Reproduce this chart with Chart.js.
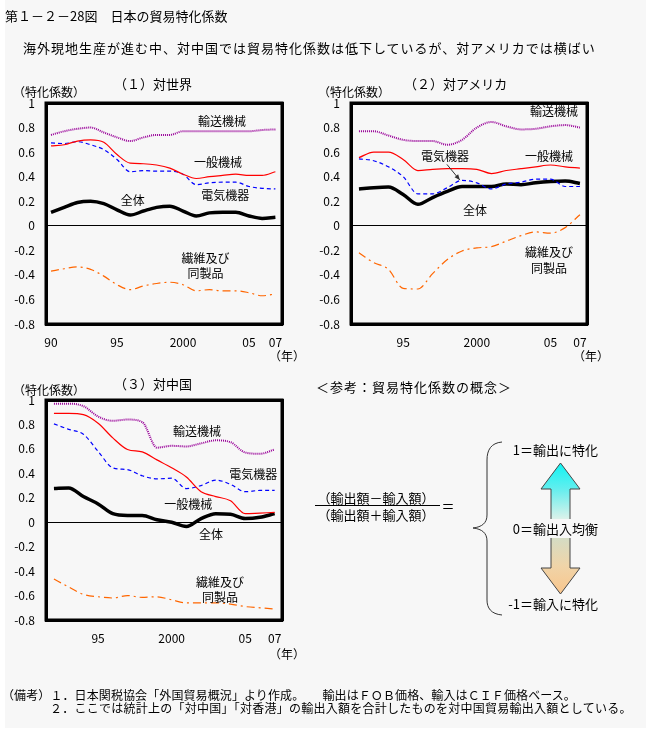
<!DOCTYPE html>
<html><head><meta charset="utf-8">
<script src="https://cdn.jsdelivr.net/npm/chart.js@4.4.0/dist/chart.umd.min.js"></script>
<style>
body{margin:0;background:#fff;width:651px;height:735px;position:relative;overflow:hidden;font-family:"Noto Sans CJK JP",sans-serif;color:#000}
#bg{position:absolute;left:5px;top:0;width:641px;height:728px;background:#f7f7f7;z-index:0}
.t{position:absolute;white-space:nowrap;line-height:1;font-size:12px;transform:translateY(-50%);z-index:3}
.c{transform:translate(-50%,-50%)}
.r{transform:translate(-100%,-50%)}
canvas{position:absolute;z-index:1}
svg{position:absolute;left:0;top:0;z-index:2}
</style></head><body>
<div id="bg"></div>
<div class="t" style="left:5px;top:15px;font-size:13px">第１－２－28図　日本の貿易特化係数</div>
<div class="t" style="left:23px;top:47px;font-size:13px;letter-spacing:1px">海外現地生産が進む中、対中国では貿易特化係数は低下しているが、対アメリカでは横ばい</div>

<div class="t" style="left:114px;top:83px;font-size:13px">（１）対世界</div>
<div class="t" style="left:404px;top:83px;font-size:13px">（２）対アメリカ</div>
<div class="t" style="left:114px;top:383px;font-size:13px">（３）対中国</div>
<div class="t" style="left:13px;top:92px">（特化係数）</div>
<div class="t" style="left:318px;top:92px">（特化係数）</div>
<div class="t" style="left:13px;top:390px">（特化係数）</div>
<div class="t c" style="left:287px;top:356px">（年）</div>
<div class="t c" style="left:591px;top:356px">（年）</div>
<div class="t c" style="left:287px;top:654px">（年）</div>

<canvas id="c1" width="310" height="267" style="left:0;top:93px"></canvas>
<canvas id="c2" width="310" height="267" style="left:305px;top:93px"></canvas>
<canvas id="c3" width="310" height="266" style="left:0;top:390px"></canvas>

<svg width="651" height="735">
  <defs>
    <linearGradient id="gUp" x1="0" y1="463" x2="0" y2="519" gradientUnits="userSpaceOnUse">
      <stop offset="0" stop-color="#10f4f4"/>
      <stop offset="0.45" stop-color="#60eeee"/>
      <stop offset="1" stop-color="#dcf2ea"/>
    </linearGradient>
    <linearGradient id="gDn" x1="0" y1="538" x2="0" y2="594" gradientUnits="userSpaceOnUse">
      <stop offset="0" stop-color="#d4dcc4"/>
      <stop offset="0.5" stop-color="#f0d4a8"/>
      <stop offset="1" stop-color="#f9c58c"/>
    </linearGradient>
  </defs>
  <path d="M551,519 L551,489 L541,489 L560.5,463 L580,489 L570,489 L570,519 Z" fill="url(#gUp)" stroke="none"/>
  <path d="M551,519 L551,489 L541,489 L560.5,463 L580,489 L570,489 L570,519" fill="none" stroke="#444" stroke-width="1"/>
  <path d="M551,538 L551,568 L541,568 L560.5,594 L580,568 L570,568 L570,538 Z" fill="url(#gDn)" stroke="none"/>
  <path d="M551,538 L551,568 L541,568 L560.5,594 L580,568 L570,568 L570,538" fill="none" stroke="#444" stroke-width="1"/>
  <path d="M502,442 C491,443 487,450 487,460 L487,515 C487,523 482,527 473,528 C482,529 487,533 487,541 L487,600 C487,608 491,614 502,615" fill="none" stroke="#333" stroke-width="1"/>
  <line x1="315" y1="505.5" x2="440" y2="505.5" stroke="#000" stroke-width="1"/>
</svg>

<div class="t" style="left:316px;top:386px;font-size:13px;letter-spacing:1px">＜参考：貿易特化係数の概念＞</div>
<div class="t c" style="left:376px;top:497px;font-size:13px">（輸出額－輸入額）</div>
<div class="t c" style="left:376px;top:514px;font-size:13px">（輸出額＋輸入額）</div>
<div class="t c" style="left:448px;top:505px;font-size:13px">＝</div>
<div class="t r" style="left:598px;top:449px;font-size:13px">1＝輸出に特化</div>
<div class="t r" style="left:598px;top:528px;font-size:13px">0＝輸出入均衡</div>
<div class="t r" style="left:598px;top:603px;font-size:13px">-1＝輸入に特化</div>

<div class="t" style="left:2px;top:695px;letter-spacing:0.1px">（備考）１．日本関税協会「外国貿易概況」より作成。　　輸出はＦＯＢ価格、輸入はＣＩＦ価格ベース。</div>
<div class="t" style="left:50px;top:708px;letter-spacing:0.25px">２．ここでは統計上の「対中国」「対香港」の輸出入額を合計したものを対中国貿易輸出入額としている。</div>

<script>
// ---- categories (years) ----
const yearsWorld = [1990,1991,1992,1993,1994,1995,1996,1997,1998,1999,2000,2001,2002,2003,2004,2005,2006,2007];
const yearsUS    = [1992,1993,1994,1995,1996,1997,1998,1999,2000,2001,2002,2003,2004,2005,2006,2007];
const yearsChina = [1992,1993,1994,1995,1996,1997,1998,1999,2000,2001,2002,2003,2004,2005,2006,2007];

// ---- series names ----
const seriesNames = ['輸送機械','一般機械','電気機器','全体','繊維及び同製品'];

// ---- (1) 対世界 ----
const worldTransport = [0.74,0.77,0.79,0.80,0.76,0.72,0.69,0.72,0.74,0.74,0.77,0.77,0.77,0.77,0.77,0.77,0.78,0.785];
const worldGeneral   = [0.65,0.66,0.69,0.70,0.68,0.58,0.51,0.505,0.495,0.47,0.42,0.385,0.40,0.41,0.42,0.41,0.41,0.44];
const worldElectric  = [0.675,0.67,0.685,0.66,0.62,0.54,0.44,0.45,0.445,0.445,0.42,0.335,0.35,0.355,0.355,0.32,0.305,0.30];
const worldTotal     = [0.11,0.15,0.19,0.20,0.18,0.13,0.087,0.12,0.15,0.16,0.12,0.08,0.105,0.11,0.11,0.08,0.06,0.07];
const worldTextile   = [-0.37,-0.35,-0.335,-0.355,-0.41,-0.48,-0.52,-0.49,-0.47,-0.46,-0.48,-0.53,-0.52,-0.53,-0.53,-0.545,-0.57,-0.555];

// ---- (2) 対アメリカ ----
const usTransport = [0.77,0.77,0.735,0.70,0.69,0.69,0.66,0.70,0.80,0.845,0.81,0.785,0.79,0.81,0.82,0.80];
const usGeneral   = [0.555,0.60,0.60,0.54,0.45,0.46,0.465,0.465,0.46,0.425,0.45,0.465,0.48,0.495,0.48,0.47];
const usElectric  = [0.545,0.53,0.48,0.40,0.26,0.26,0.31,0.37,0.35,0.30,0.34,0.355,0.38,0.38,0.32,0.32];
const usTotal     = [0.30,0.31,0.315,0.255,0.175,0.23,0.28,0.32,0.32,0.32,0.34,0.335,0.35,0.36,0.365,0.345];
const usTextile   = [-0.22,-0.30,-0.355,-0.51,-0.515,-0.39,-0.275,-0.205,-0.18,-0.17,-0.125,-0.08,-0.05,-0.06,-0.015,0.09];

// ---- (3) 対中国 ----
const cnTransport = [0.97,0.97,0.95,0.865,0.83,0.84,0.82,0.61,0.625,0.62,0.645,0.67,0.655,0.57,0.56,0.595];
const cnGeneral   = [0.89,0.89,0.88,0.81,0.69,0.595,0.575,0.51,0.445,0.37,0.25,0.21,0.175,0.07,0.075,0.08];
const cnElectric  = [0.805,0.76,0.72,0.58,0.445,0.43,0.38,0.355,0.36,0.275,0.30,0.345,0.31,0.25,0.26,0.26];
const cnTotal     = [0.275,0.28,0.21,0.15,0.07,0.055,0.055,0.02,0.0,-0.035,0.03,0.07,0.065,0.03,0.04,0.07];
const cnTextile   = [-0.465,-0.53,-0.59,-0.61,-0.62,-0.60,-0.615,-0.61,-0.635,-0.66,-0.66,-0.66,-0.67,-0.69,-0.70,-0.71];

// ---- tick labels ----
const xTicksWorld = [1990,1995,2000,2005,2007];
const xLabelsWorld = ['90','95','2000','05','07'];
const xTicksOther = [1995,2000,2005,2007];
const xLabelsOther = ['95','2000','05','07'];
const yMin = -0.8, yMax = 1, yStep = 0.2;

// ---- in-plot annotations (data coordinates) ----
const annWorld = [
  {text:'輸送機械', x:2002.95, y:0.85},
  {text:'一般機械', x:2002.65, y:0.515},
  {text:'電気機器', x:2003.2, y:0.247},
  {text:'全体', x:1996.2, y:0.206},
  {text:'繊維及び', x:2001.7, y:-0.266},
  {text:'同製品', x:2001.7, y:-0.39}
];
const annUS = [
  {text:'輸送機械', x:2005.24, y:0.93},
  {text:'一般機械', x:2004.9, y:0.564},
  {text:'電気機器', x:1997.84, y:0.564},
  {text:'全体', x:1999.88, y:0.125},
  {text:'繊維及び', x:2004.9, y:-0.217},
  {text:'同製品', x:2004.9, y:-0.348}
];
const arrowUS = {from:{x:1997.97, y:0.50}, to:{x:1998.85, y:0.372}};
const annCN = [
  {text:'輸送機械', x:2001.73, y:0.746},
  {text:'電気機器', x:2005.54, y:0.395},
  {text:'一般機械', x:2001.12, y:0.149},
  {text:'全体', x:2002.68, y:-0.097},
  {text:'繊維及び', x:2003.29, y:-0.49},
  {text:'同製品', x:2003.29, y:-0.612}
];

const FONT = "'Noto Sans CJK JP', sans-serif";
const styles = [
  {color:'#990099', width:2, dash:[1,1]},
  {color:'#ff0000', width:1.2, dash:[]},
  {color:'#0000ff', width:1.2, dash:[4,3]},
  {color:'#000000', width:3.5, dash:[]},
  {color:'#ff6600', width:1.2, dash:[8,4,2,4]}
];

function frameAxis(position, isX){
  return {
    type: 'linear', position, display: true,
    min: 0, max: 1,
    grid: {display: false, drawTicks: false},
    ticks: {display: false},
    border: {display: true, width: 3, color: '#000'},
    afterFit: sc => { if (isX) sc.height = 0; else sc.width = 0; }
  };
}

function makeChart(id, years, seriesVals, xMin, xMax, tickVals, tickLabs, annots, arrow){
  const datasets = seriesVals.map((vals, k) => ({
    label: seriesNames[k],
    data: years.map((yr, i) => ({x: yr, y: vals[i]})),
    borderColor: styles[k].color,
    borderWidth: styles[k].width,
    borderDash: styles[k].dash,
    pointRadius: 0,
    fill: false,
    cubicInterpolationMode: 'monotone'
  }));
  const annotPlugin = {
    id: 'annot' + id,
    afterDraw(chart){
      const ctx = chart.ctx, a = chart.chartArea, x = chart.scales.x, y = chart.scales.y;
      ctx.save();
      ctx.setLineDash([]);
      ctx.strokeStyle = '#000';
      ctx.lineWidth = 3;
      ctx.beginPath();
      ctx.rect(a.left, a.top, a.width, a.height);
      ctx.stroke();
      ctx.fillStyle = '#000';
      ctx.font = "12px " + FONT;
      ctx.textAlign = 'center'; ctx.textBaseline = 'middle';
      annots.forEach(l => ctx.fillText(l.text, x.getPixelForValue(l.x), y.getPixelForValue(l.y)));
      if (arrow){
        const x1 = x.getPixelForValue(arrow.from.x), y1 = y.getPixelForValue(arrow.from.y);
        const x2 = x.getPixelForValue(arrow.to.x), y2 = y.getPixelForValue(arrow.to.y);
        ctx.strokeStyle = '#333'; ctx.lineWidth = 1;
        ctx.beginPath(); ctx.moveTo(x1, y1); ctx.lineTo(x2, y2); ctx.stroke();
        const ang = Math.atan2(y2 - y1, x2 - x1), L = 6;
        ctx.fillStyle = '#333';
        ctx.beginPath();
        ctx.moveTo(x2, y2);
        ctx.lineTo(x2 - L*Math.cos(ang - 0.4), y2 - L*Math.sin(ang - 0.4));
        ctx.lineTo(x2 - L*Math.cos(ang + 0.4), y2 - L*Math.sin(ang + 0.4));
        ctx.closePath(); ctx.fill();
      }
      ctx.restore();
    }
  };
  return new Chart(document.getElementById(id), {
    type: 'line',
    data: {datasets},
    options: {
      responsive: false, animation: false, devicePixelRatio: 1,
      layout: {padding: {top: 10, right: 28, left: 0, bottom: 0}},
      plugins: {legend: {display: false}, tooltip: {enabled: false}},
      scales: {
        x: {
          type: 'linear', min: xMin, max: xMax,
          grid: {display: false, drawTicks: false},
          border: {display: true, width: 3, color: '#000'},
          afterBuildTicks: sc => { sc.ticks = tickVals.map(v => ({value: v})); },
          afterFit: sc => { sc.height = 36; },
          ticks: {autoSkip: false, maxRotation: 0, padding: 11, color: '#000',
            font: {size: 12, family: FONT},
            callback: v => { const i = tickVals.indexOf(v); return i >= 0 ? tickLabs[i] : ''; }}
        },
        y: {
          min: yMin, max: yMax,
          afterFit: sc => { sc.width = 46; },
          grid: {drawTicks: true, tickLength: 11, tickColor: 'rgba(0,0,0,0)', lineWidth: 1,
            color: c => (c.tick && Math.abs(c.tick.value) < 1e-9) ? '#000' : 'rgba(0,0,0,0)'},
          border: {display: true, width: 3, color: '#000'},
          ticks: {stepSize: yStep, padding: 0, color: '#000', font: {size: 12, family: FONT},
            callback: v => String(Math.round(v * 10) / 10)}
        },
        xTop: frameAxis('top', true),
        yRight: frameAxis('right', false)
      }
    },
    plugins: [annotPlugin]
  });
}

makeChart('c1', yearsWorld, [worldTransport, worldGeneral, worldElectric, worldTotal, worldTextile],
  1989.62, 2007.5, xTicksWorld, xLabelsWorld, annWorld, null);
makeChart('c2', yearsUS, [usTransport, usGeneral, usElectric, usTotal, usTextile],
  1991.46, 2007.48, xTicksOther, xLabelsOther, annUS, arrowUS);
makeChart('c3', yearsChina, [cnTransport, cnGeneral, cnElectric, cnTotal, cnTextile],
  1991.46, 2007.5, xTicksOther, xLabelsOther, annCN, null);
</script>
</body></html>
